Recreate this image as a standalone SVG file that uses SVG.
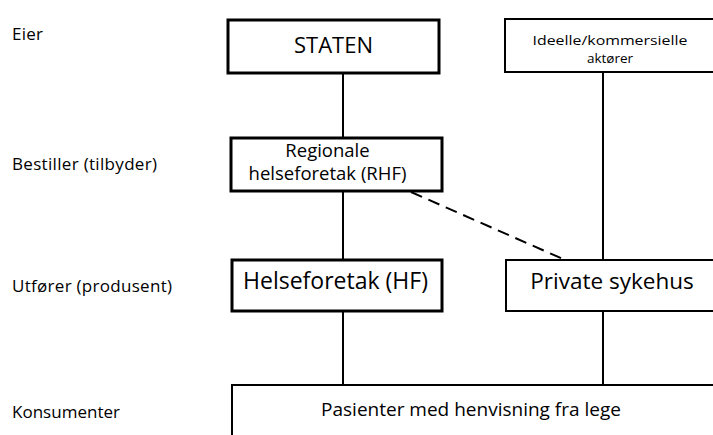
<svg xmlns="http://www.w3.org/2000/svg" width="713" height="435" viewBox="0 0 713 435">
<style>
.box{fill:#fff;stroke:#000;stroke-width:3}
.thin{stroke-width:2}
.ln{stroke:#000;stroke-width:2;fill:none}
text{font-family:"Open Sans","Noto Sans",sans-serif;fill:#000}
.c{text-anchor:middle}
.lab{font-size:17px}
</style>
<rect width="713" height="435" fill="#fff"/>
<g id="labels">
<text class="lab" x="12" y="40" textLength="31">Eier</text>
<text class="lab" x="12" y="170" textLength="145">Bestiller (tilbyder)</text>
<text class="lab" x="12" y="292" textLength="160">Utfører (produsent)</text>
<text class="lab" x="12" y="418" textLength="108">Konsumenter</text>
</g>
<g id="connectors">
<line class="ln" x1="343" y1="73" x2="343" y2="138"/>
<line class="ln" x1="343" y1="191" x2="343" y2="260"/>
<line class="ln" x1="343" y1="311" x2="343" y2="386"/>
<line class="ln" x1="603" y1="71" x2="603" y2="260"/>
<line class="ln" x1="603" y1="311" x2="603" y2="386"/>
<line class="ln" x1="411" y1="192" x2="563" y2="259" stroke-dasharray="12,7"/>
</g>
<g id="staten">
<rect class="box" x="228" y="20" width="211" height="53"/>
<text class="c" x="333.5" y="53" font-size="22">STATEN</text>
</g>
<g id="ideelle">
<rect class="box thin" x="505" y="19" width="210" height="53"/>
<text class="c" x="610" y="45" font-size="13.5" textLength="155" lengthAdjust="spacingAndGlyphs">Ideelle/kommersielle</text>
<text class="c" x="610" y="63" font-size="13.5">aktører</text>
</g>
<g id="rhf">
<rect class="box" x="231" y="138" width="211" height="53"/>
<text class="c" x="327.5" y="157" font-size="18.5">Regionale</text>
<text class="c" x="327.5" y="180" font-size="18.5">helseforetak (RHF)</text>
</g>
<g id="hf">
<rect class="box" x="232" y="260" width="210" height="51"/>
<text class="c" x="335.5" y="289" font-size="23">Helseforetak (HF)</text>
</g>
<g id="private">
<rect class="box thin" x="506" y="260" width="210" height="51"/>
<text class="c" x="612" y="289" font-size="22.5">Private sykehus</text>
</g>
<g id="pasienter">
<rect class="box thin" x="232" y="385" width="490" height="60"/>
<text class="c" x="471" y="416" font-size="19">Pasienter med henvisning fra lege</text>
</g>
</svg>
